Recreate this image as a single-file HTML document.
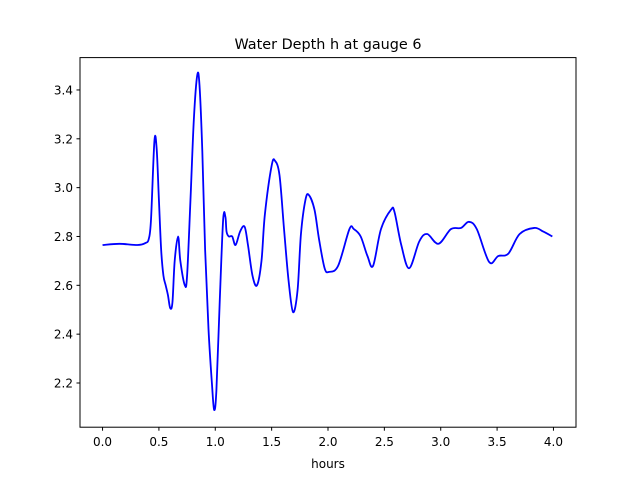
<!DOCTYPE html>
<html><head><meta charset="utf-8"><style>
body{margin:0;background:#fff}
svg{display:block;font-family:"DejaVu Sans","Liberation Sans",sans-serif}
</style></head><body>
<svg id="chart" width="640" height="480" viewBox="0 0 640 480">
<rect width="640" height="480" fill="#fff"/>
<text x="328" y="49" text-anchor="middle" font-size="14.4">Water Depth h at gauge 6</text>
<g id="plot"></g>
<rect x="80" y="57.6" width="496" height="369.6" fill="none" stroke="#000" stroke-width="1"/>
<g id="xt"></g><g id="yt"></g>
<text x="328" y="468" text-anchor="middle" font-size="12">hours</text>
</svg>
<script>
const hours=[0,0.15,0.31,0.38,0.41,0.43,0.46,0.48,0.5,0.52,0.54,0.56,0.58,0.6,0.62,0.64,0.67,0.69,0.73,0.75,0.78,0.81,0.84,0.86,0.885,0.91,0.94,0.97,0.99,1.01,1.04,1.07,1.09,1.1,1.12,1.15,1.18,1.22,1.26,1.29,1.33,1.37,1.41,1.44,1.5,1.53,1.57,1.61,1.65,1.69,1.73,1.76,1.8,1.83,1.88,1.92,1.97,2.01,2.09,2.19,2.23,2.29,2.35,2.4,2.47,2.56,2.59,2.65,2.72,2.81,2.88,2.98,3.09,3.18,3.25,3.32,3.43,3.51,3.6,3.7,3.83,3.91,3.99];
const depth=[2.765,2.77,2.765,2.773,2.79,2.87,3.19,3.16,2.95,2.745,2.64,2.6,2.56,2.507,2.53,2.70,2.80,2.70,2.60,2.64,2.95,3.28,3.46,3.42,3.15,2.745,2.42,2.2,2.09,2.17,2.54,2.87,2.88,2.82,2.80,2.80,2.765,2.82,2.84,2.765,2.64,2.60,2.70,2.89,3.09,3.11,3.05,2.83,2.62,2.49,2.58,2.81,2.95,2.97,2.91,2.79,2.67,2.655,2.68,2.83,2.83,2.80,2.72,2.68,2.83,2.91,2.90,2.765,2.67,2.78,2.81,2.77,2.83,2.835,2.86,2.83,2.695,2.72,2.73,2.81,2.835,2.82,2.80];
const xTicks=[0,0.5,1,1.5,2,2.5,3,3.5,4];
const yTicks=[2.2,2.4,2.6,2.8,3.0,3.2,3.4];
const NS="http://www.w3.org/2000/svg";
const X=h=>80+496*(h+0.2)/4.4;
const Y=v=>383-(v-2.2)*244.2;
const pts=hours.map((h,i)=>[X(h),Y(depth[i])]);
let d="M"+pts[0][0]+","+pts[0][1];
for(let i=0;i<pts.length-1;i++){
 const p0=pts[Math.max(0,i-1)],p1=pts[i],p2=pts[i+1],p3=pts[Math.min(pts.length-1,i+2)];
 const c1=[p1[0]+(p2[0]-p0[0])/6,p1[1]+(p2[1]-p0[1])/6];
 const c2=[p2[0]-(p3[0]-p1[0])/6,p2[1]-(p3[1]-p1[1])/6];
 d+=" C"+c1+" "+c2+" "+p2;
}
const path=document.createElementNS(NS,"path");
path.setAttribute("d",d);path.setAttribute("fill","none");path.setAttribute("stroke","#0000ff");path.setAttribute("stroke-width","1.8");


document.getElementById("plot").appendChild(path);
const xt=document.getElementById("xt");
xTicks.forEach(t=>{
 const l=document.createElementNS(NS,"line");
 l.setAttribute("x1",X(t));l.setAttribute("x2",X(t));l.setAttribute("y1",427.2);l.setAttribute("y2",430.7);l.setAttribute("stroke","#000");
 
 
 xt.appendChild(l);
 const s=document.createElementNS(NS,"text");
 s.setAttribute("x",X(t));s.setAttribute("y",446);s.setAttribute("text-anchor","middle");s.setAttribute("font-size","12");
 s.textContent=t.toFixed(1);
 
 
 xt.appendChild(s);
});
const yt=document.getElementById("yt");
yTicks.forEach(t=>{
 const l=document.createElementNS(NS,"line");
 l.setAttribute("x1",76.5);l.setAttribute("x2",80);l.setAttribute("y1",Y(t));l.setAttribute("y2",Y(t));l.setAttribute("stroke","#000");
 
 
 yt.appendChild(l);
 const s=document.createElementNS(NS,"text");
 s.setAttribute("x",73);s.setAttribute("y",Y(t)+4.5);s.setAttribute("text-anchor","end");s.setAttribute("font-size","12");
 s.textContent=t.toFixed(1);
 
 
 yt.appendChild(s);
});
</script>
</body></html>
